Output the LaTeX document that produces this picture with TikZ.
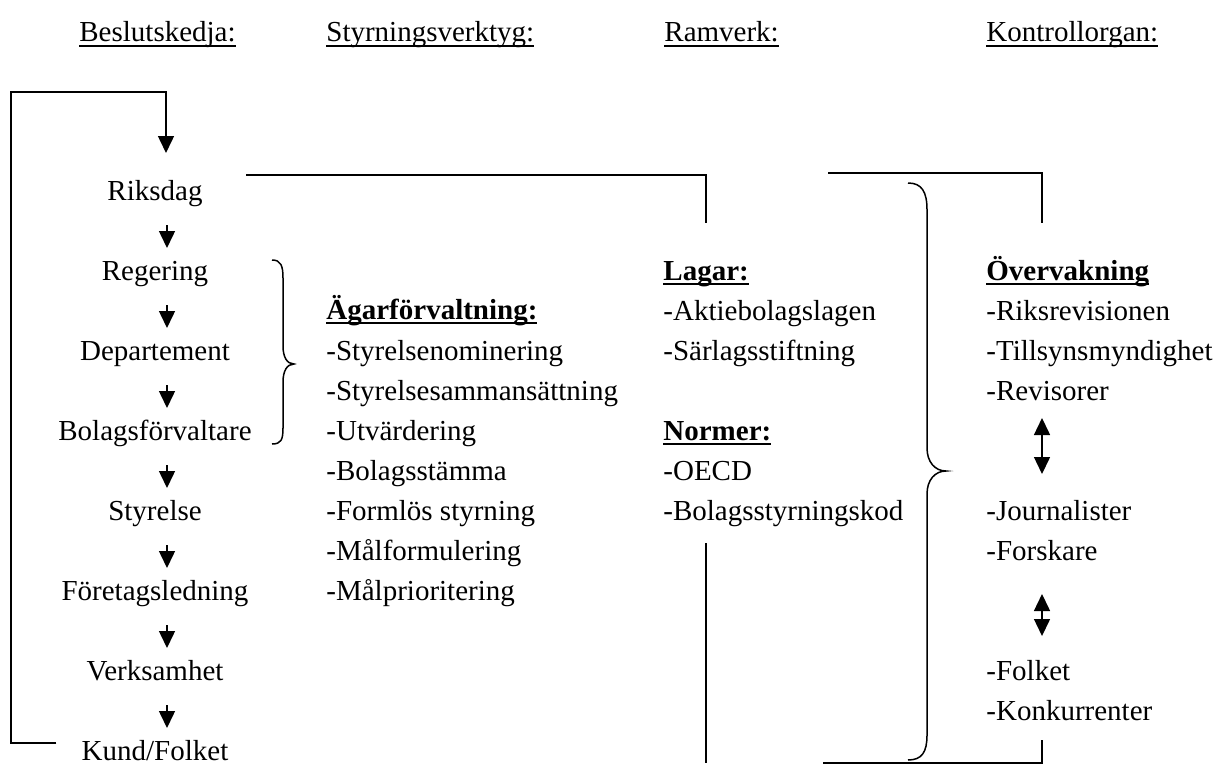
\documentclass[tikz,border=0pt]{standalone}
\usepackage{fontspec}
\setmainfont{Liberation Serif}
\usetikzlibrary{arrows.meta,calc}
\newcommand\hul[1]{\setbox0\hbox{#1}\rlap{\rule[-2.3pt]{\wd0}{0.7pt}}\box0}
\newcommand\bul[1]{\setbox0\hbox{\bfseries #1}\rlap{\rule[-2.7pt]{\wd0}{1.35pt}}\box0}
\begin{document}
\begin{tikzpicture}[x=0.5pt,y=-0.5pt,
  txt/.style={inner sep=0pt,font=\fontsize{14.5}{17}\selectfont},
  lft/.style={txt,anchor=base west},
  ctr/.style={txt,anchor=base},
  ln/.style={line width=0.75pt},
  arr/.style={line width=0.75pt,-{Triangle[width=8pt,length=8.5pt]}},
  darr/.style={line width=0.75pt,{Triangle[width=8pt,length=8.5pt]}-{Triangle[width=8pt,length=8.5pt]}}]
\useasboundingbox (0,0) rectangle (1218,765);

% headings
\node[lft] (h1) at (79,42) {\hul{Beslutskedja:}};
\node[lft] (h2) at (326,42) {\hul{Styrningsverktyg:}};
\node[lft] (h3) at (664,42) {\hul{Ramverk:}};
\node[lft] (h4) at (986,42) {\hul{Kontrollorgan:}};

% column 1
\node[ctr] (riksdag) at (155,200) {Riksdag};
\node[ctr] (regering) at (155,280) {Regering};
\node[ctr] (dep) at (155,360) {Departement};
\node[ctr] (bolag) at (155,440) {Bolagsförvaltare};
\node[ctr] (styr) at (155,520) {Styrelse};
\node[ctr] (led) at (155,600) {Företagsledning};
\node[ctr] (verk) at (155,680) {Verksamhet};
\node[ctr] (kund) at (155,760) {Kund/Folket};

\foreach \a/\b in {riksdag/regering,regering/dep,dep/bolag,bolag/styr,styr/led,led/verk,verk/kund}
  \draw[arr] ($(\a.base)!0.5!(\b.base)+(12,-15)$) -- ($(\a.base)!0.5!(\b.base)+(12,8)$);

% column 2
\node[lft] (agar) at (326,319) {\bul{Ägarförvaltning:}};
\node[lft] (s1) at (326,360) {-Styrelsenominering};
\node[lft] (s2) at (326,400) {-Styrelsesammansättning};
\node[lft] (s3) at (326,440) {-Utvärdering};
\node[lft] (s4) at (326,480) {-Bolagsstämma};
\node[lft] (s5) at (326,520) {-Formlös styrning};
\node[lft] (s6) at (326,560) {-Målformulering};
\node[lft] (s7) at (326,600) {-Målprioritering};

% column 3
\node[lft] (lagar) at (663,280) {\bul{Lagar:}};
\node[lft] (r1) at (663,320) {-Aktiebolagslagen};
\node[lft] (r2) at (663,360) {-Särlagsstiftning};
\node[lft] (normer) at (663,440) {\bul{Normer:}};
\node[lft] (r3) at (663,480) {-OECD};
\node[lft] (kod) at (663,520) {-Bolagsstyrningskod};

% column 4
\node[lft] (overv) at (986,280) {\bul{Övervakning}};
\node[lft] (k1) at (986,320) {-Riksrevisionen};
\node[lft] (k2) at (986,360) {-Tillsynsmyndighet};
\node[lft] (rev) at (986,400) {-Revisorer};
\node[lft] (journ) at (986,520) {-Journalister};
\node[lft] (forsk) at (986,560) {-Forskare};
\node[lft] (folket) at (986,680) {-Folket};
\node[lft] (konk) at (986,720) {-Konkurrenter};

% loop connector
\coordinate (loopL) at (11,92);
\draw[arr] ($(kund.base west)+(-25,-17)$) -| (loopL) -| ($(riksdag.base)+(11,-47)$);

% riksdag -> lagar
\draw[ln] ($(riksdag.base)+(91,-25)$) -| ($(lagar.base west)+(43,-57)$);

% top right
\coordinate (rtop) at (828,173);
\draw[ln] (rtop) -| ($(overv.base west)+(56,-57)$);

% bottom lines
\coordinate (kodend) at (706,763);
\draw[ln] ($(kod.base west)+(43,23)$) -- (kodend);
\coordinate (rbot) at (823,763);
\draw[ln] (rbot) -| ($(konk.base west)+(56,20)$);

% double arrows
\draw[darr] ($(rev.base west)+(56,18)$) -- ($(journ.base west)+(56,-46)$);
\draw[darr] ($(forsk.base west)+(56,34)$) -- ($(folket.base west)+(56,-44)$);

% small brace
\draw[ln] (272,260) .. controls (281,260) and (283,266) .. (283,278) -- (283,346)
  .. controls (283,357) and (287,364) .. (294,364)
  .. controls (287,364) and (283,371) .. (283,382) -- (283,428)
  .. controls (283,440) and (281,444) .. (272,444);

% big brace
\draw[ln] (908,183) .. controls (922,183) and (927,192) .. (927,210) -- (927,448)
  .. controls (927,462) and (935,471) .. (946,471)
  .. controls (935,471) and (927,480) .. (927,494) -- (927,735)
  .. controls (927,752) and (922,760) .. (908,760);
\end{tikzpicture}
\end{document}
